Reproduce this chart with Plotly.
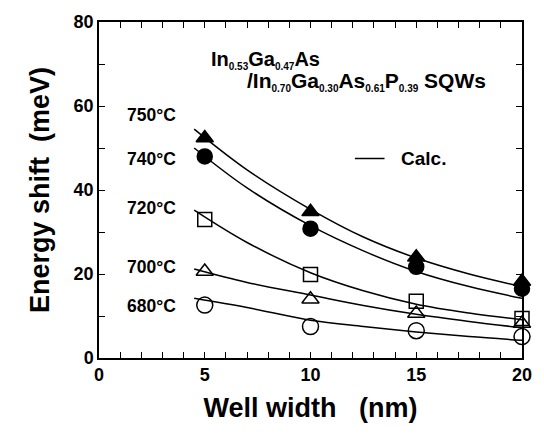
import plotly.graph_objects as go

# Measured data (well width in nm, energy shift in meV)
well_width = [5, 10, 15, 20]
shift_750 = [52.4, 34.8, 24.0, 18.2]
shift_740 = [48.0, 30.8, 21.7, 16.5]
shift_720 = [33.0, 19.9, 13.5, 9.4]
shift_700 = [20.6, 14.0, 10.6, 8.2]
shift_680 = [12.6, 7.5, 6.5, 5.1]

# Calculated curves
calc_x = [4.5, 7, 10, 12.5, 15, 17.5, 20]
calc_750 = [54.5, 44.8, 35.4, 28.8, 23.8, 20.0, 17.0]
calc_740 = [50.0, 40.5, 31.5, 25.5, 20.6, 17.0, 14.2]
calc_720 = [35.2, 27.5, 20.3, 16.0, 12.8, 10.7, 9.1]
calc_700 = [21.2, 18.0, 15.0, 12.5, 10.4, 8.7, 7.2]
calc_680 = [14.2, 12.0, 9.0, 7.5, 6.2, 5.1, 4.2]

temp_labels = ["750°C", "740°C", "720°C", "700°C", "680°C"]
x_ticks = [0, 5, 10, 15, 20]
y_ticks = [0, 20, 40, 60, 80]

FONT = "Liberation Sans, Arial, sans-serif"
fig = go.Figure()

for cy in [calc_750, calc_740, calc_720, calc_700, calc_680]:
    fig.add_trace(go.Scatter(x=calc_x, y=cy, mode="lines",
                             line=dict(color="black", width=1.5, shape="spline"),
                             showlegend=False, hoverinfo="skip"))

marker_specs = [
    (shift_750, "triangle-up", 15),
    (shift_740, "circle", 15),
    (shift_720, "square-open", 14),
    (shift_700, "triangle-up-open", 15),
    (shift_680, "circle-open", 16),
]
for ys, sym, sz in marker_specs:
    fig.add_trace(go.Scatter(
        x=well_width, y=ys, mode="markers",
        marker=dict(symbol=sym, size=sz, color="black",
                    line=dict(color="black", width=1.5)),
        showlegend=False, cliponaxis=False))

# legend line "Calc."
fig.add_trace(go.Scatter(x=[12.1, 13.5], y=[47.5, 47.5], mode="lines",
                         line=dict(color="black", width=1.5),
                         showlegend=False, hoverinfo="skip"))


def sub(s):
    return "<sub><span style='font-size:10px'>" + s + "</span></sub>"


annots = []
label_y = [57.8, 47.3, 35.6, 21.6, 12.4]
for t, ly in zip(temp_labels, label_y):
    annots.append(dict(x=2.5, y=ly, text="<b>" + t + "</b>", showarrow=False,
                       xref="x", yref="y", font=dict(size=17.5, color="black", family=FONT)))
annots.append(dict(x=14.2, y=47.5, text="<b>Calc.</b>", showarrow=False,
                   xanchor="left", font=dict(size=19, color="black", family=FONT)))
annots.append(dict(x=5.2, y=71.0, xanchor="left",
                   text="<b>In" + sub("0.53") + "Ga" + sub("0.47") + "As</b>", showarrow=False,
                   font=dict(size=20, color="black", family=FONT)))
annots.append(dict(x=6.9, y=65.8, xanchor="left",
                   text="<b>/In" + sub("0.70") + "Ga" + sub("0.30") + "As" + sub("0.61")
                        + "P" + sub("0.39") + " SQWs</b>",
                   showarrow=False, font=dict(size=21, color="black", family=FONT)))

fig.update_layout(
    width=544, height=436,
    margin=dict(l=99, r=20, t=15, b=78),
    plot_bgcolor="white", paper_bgcolor="white",
    annotations=annots,
    font=dict(family=FONT, color="black"),
    xaxis=dict(range=[0, 20], tickvals=x_ticks,
               ticktext=["<b>%d</b>" % v for v in x_ticks],
               ticks="inside", ticklen=6, tickwidth=1.2, tickcolor="black",
               minor=dict(dtick=1, ticks="inside", ticklen=6, tickcolor="black"),
               showline=True, linecolor="black", linewidth=1.5, mirror="ticks",
               showgrid=False, zeroline=False,
               tickfont=dict(size=18, family=FONT),
               title=dict(text="<b>Well width   (nm)</b>", font=dict(size=27, family=FONT),
                          standoff=14)),
    yaxis=dict(range=[0, 80], tickvals=y_ticks,
               ticktext=["<b>%d</b>" % v for v in y_ticks],
               ticks="inside", ticklen=6, tickwidth=1.2, tickcolor="black",
               minor=dict(dtick=10, ticks="inside", ticklen=6, tickcolor="black"),
               showline=True, linecolor="black", linewidth=1.5, mirror="ticks",
               showgrid=False, zeroline=False,
               tickfont=dict(size=18, family=FONT),
               title=dict(text="<b>Energy shift  (meV)</b>", font=dict(size=27, family=FONT),
                          standoff=16)),
)

fig.write_html("out.html")
